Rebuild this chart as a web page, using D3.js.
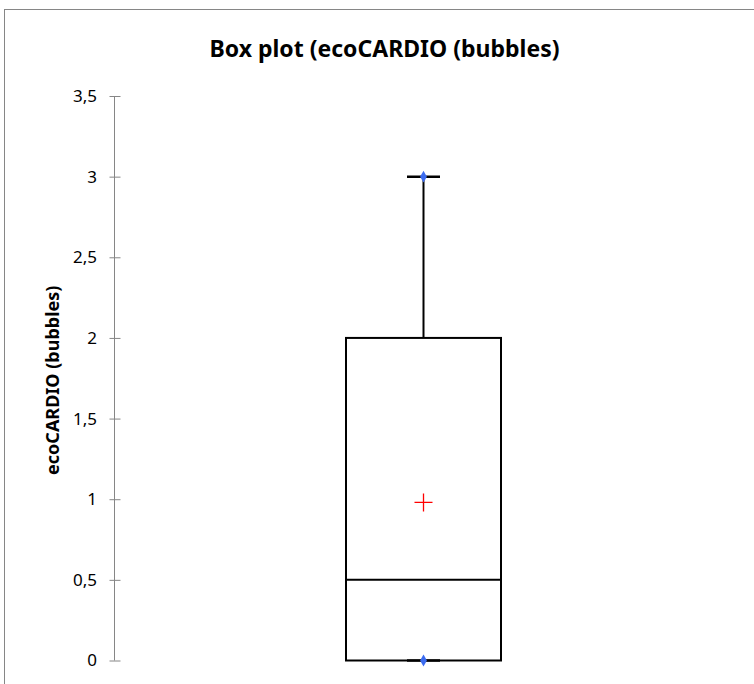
<!DOCTYPE html>
<html>
<head>
<meta charset="utf-8">
<script src="https://d3js.org/d3.v7.min.js"></script>
<title>Box plot</title>
<style>
body { margin: 0; background: #fff; }
text { font-family: "Noto Sans", "Open Sans", sans-serif; }
.yaxis path, .yaxis line { stroke: #868686; }
.yaxis text { font-size: 17px; fill: #000; }
</style>
</head>
<body>
<svg class="chart"></svg>
<script>
// data
const categories = ["ecoCARDIO (bubbles)"]
const minVals = [0]
const q1Vals = [0]
const medianVals = [0.5]
const q3Vals = [2]
const maxVals = [3]
const meanVals = [0.98]
const yTicks = [0, 0.5, 1, 1.5, 2, 2.5, 3, 3.5]

const w = 754, h = 684
const svg = d3.select('.chart').attr('width', w).attr('height', h)

// frame
svg.append('rect')
  .attr('x', 4.5).attr('y', 9.5).attr('width', 800).attr('height', 800)
  .attr('fill', 'none').attr('stroke', '#868686').attr('stroke-width', 1)

const yScale = d3.scaleLinear().domain([0, 3.5]).range([660.5, 96])
const xScale = d3.scaleBand().domain(categories).range([117, 730]).paddingInner(0).paddingOuter(0)

const yAxis = d3.axisLeft(yScale)
  .tickValues(yTicks)
  .tickSize(0)
  .tickPadding(17.5)
  .tickFormat(d => String(d).replace('.', ','))

const gy = svg.append('g').classed('yaxis', true)
  .attr('transform', 'translate(114.5,0)')
  .call(yAxis)
gy.select('.domain').attr('d', 'M0,' + yScale(3.5) + 'V' + yScale(0))
gy.selectAll('.tick line').attr('x1', -5).attr('x2', 6)

// title
svg.append('text')
  .attr('x', 384.5).attr('y', 57)
  .attr('text-anchor', 'middle')
  .style('font-size', '23px').style('font-weight', 'bold')
  .text('Box plot (ecoCARDIO (bubbles)')

// y label
svg.append('text')
  .attr('transform', 'translate(59,' + ((yScale(0) + yScale(3.5)) / 2 + 2) + ') rotate(-90)')
  .attr('text-anchor', 'middle')
  .style('font-size', '18px').style('font-weight', 'bold')
  .text(categories[0])

const boxW = 155, capW = 33
const g = svg.append('g')
categories.forEach((c, i) => {
  const cx = xScale(c) + xScale.bandwidth() / 2
  // whiskers
  g.append('line').attr('x1', cx).attr('x2', cx)
    .attr('y1', yScale(q3Vals[i])).attr('y2', yScale(maxVals[i]))
    .attr('stroke', '#000').attr('stroke-width', 2)
  g.append('line').attr('x1', cx).attr('x2', cx)
    .attr('y1', yScale(minVals[i])).attr('y2', yScale(q1Vals[i]))
    .attr('stroke', '#000').attr('stroke-width', 2)
  ;[minVals[i], maxVals[i]].forEach(v => {
    g.append('line').attr('x1', cx - capW / 2).attr('x2', cx + capW / 2)
      .attr('y1', yScale(v)).attr('y2', yScale(v))
      .attr('stroke', '#000').attr('stroke-width', 2.5)
  })
  // box
  g.append('rect')
    .attr('x', cx - boxW / 2).attr('width', boxW)
    .attr('y', yScale(q3Vals[i])).attr('height', yScale(q1Vals[i]) - yScale(q3Vals[i]))
    .attr('fill', 'none').attr('stroke', '#000').attr('stroke-width', 2)
  g.append('line').attr('x1', cx - boxW / 2).attr('x2', cx + boxW / 2)
    .attr('y1', yScale(medianVals[i])).attr('y2', yScale(medianVals[i]))
    .attr('stroke', '#000').attr('stroke-width', 2)
  // mean
  const my = yScale(meanVals[i])
  g.append('path')
    .attr('d', 'M' + (cx - 9) + ',' + my + 'H' + (cx + 9) + 'M' + cx + ',' + (my - 9) + 'V' + (my + 9))
    .attr('stroke', '#ff0000').attr('stroke-width', 1.3).attr('fill', 'none')
  // min / max points
  ;[minVals[i], maxVals[i]].forEach(v => {
    g.append('path')
      .attr('d', d3.symbol().type(d3.symbolDiamond).size(40))
      .attr('transform', 'translate(' + cx + ',' + yScale(v) + ')')
      .attr('fill', '#3c6cf0')
  })
})
</script>
</body>
</html>
